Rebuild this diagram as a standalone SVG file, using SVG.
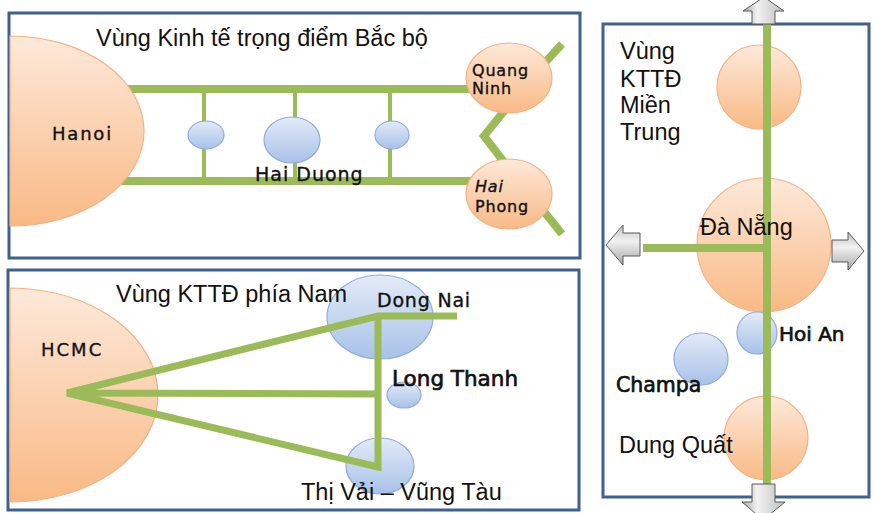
<svg xmlns="http://www.w3.org/2000/svg" width="873" height="513" viewBox="0 0 873 513">
  <defs>
    <linearGradient id="gOrange" x1="0" y1="0" x2="0" y2="1">
      <stop offset="0" stop-color="#fde9da"/>
      <stop offset="1" stop-color="#f9b985"/>
    </linearGradient>
    <linearGradient id="gBlue" x1="0" y1="0" x2="0" y2="1">
      <stop offset="0" stop-color="#e3ebf7"/>
      <stop offset="1" stop-color="#a8c1e8"/>
    </linearGradient>
    <linearGradient id="gArrowV" x1="0" y1="0" x2="1" y2="0">
      <stop offset="0" stop-color="#a6a6a6"/>
      <stop offset="0.35" stop-color="#f2f2f2"/>
      <stop offset="1" stop-color="#bfbfbf"/>
    </linearGradient>
    <linearGradient id="gArrowH" x1="0" y1="0" x2="0" y2="1">
      <stop offset="0" stop-color="#bfbfbf"/>
      <stop offset="0.4" stop-color="#f2f2f2"/>
      <stop offset="1" stop-color="#a6a6a6"/>
    </linearGradient>
  </defs>
  <style>
    .panel { fill: #ffffff; stroke: #3f6190; stroke-width: 3; }
    .orange { fill: url(#gOrange); stroke: #f4b183; stroke-width: 1.2; }
    .blue { fill: url(#gBlue); stroke: #8faadc; stroke-width: 1.2; }
    .road { fill: none; stroke: #9bbb59; stroke-linejoin: miter; }
    .arrowV { fill: url(#gArrowV); stroke: #595959; stroke-width: 1; }
    .arrowH { fill: url(#gArrowH); stroke: #595959; stroke-width: 1; }
    .title { font-family: "Liberation Sans", Arial, sans-serif; font-size: 23.5px; fill: #111111; }
    .city { font-family: "DejaVu Sans", Verdana, sans-serif; fill: #111111; stroke: #111111; stroke-width: 0.35; }
    .cityb { font-family: "DejaVu Sans", Verdana, sans-serif; fill: #111111; stroke: #111111; stroke-width: 0.7; }
  </style>

  <!-- panel frames -->
  <g id="panels">
    <rect class="panel" x="9" y="13" width="571" height="245"/>
    <rect class="panel" x="8" y="270" width="571" height="240"/>
    <rect class="panel" x="603" y="24" width="266" height="473"/>
  </g>

  <!-- road connectors -->
  <g id="connectors">
    <!-- northern ladder -->
    <line class="road" x1="120" y1="89" x2="480" y2="89" stroke-width="8"/>
    <line class="road" x1="115" y1="181" x2="480" y2="181" stroke-width="8"/>
    <line class="road" x1="204" y1="89" x2="204" y2="181" stroke-width="4"/>
    <line class="road" x1="295" y1="89" x2="295" y2="181" stroke-width="4"/>
    <line class="road" x1="390" y1="89" x2="390" y2="181" stroke-width="4"/>
    <polyline class="road" points="505,110 484,136 504,162" stroke-width="8"/>
    <line class="road" x1="540" y1="68" x2="562" y2="44" stroke-width="8"/>
    <line class="road" x1="542" y1="209" x2="562" y2="234" stroke-width="8"/>
  </g>

  <!-- northern region -->
  <g id="title-north">
    <text class="title" x="96" y="46">Vùng Kinh tế trọng điểm Bắc bộ</text>
  </g>
  <g id="hanoi">
    <path class="orange" d="M10,36 A134,95 0 0 1 10,226 Z"/>
    <text class="city" x="52" y="140" font-size="18" letter-spacing="1.8">Hanoi</text>
  </g>
  <g id="node-n1">
    <ellipse class="blue" cx="206" cy="135" rx="18" ry="14"/>
  </g>
  <g id="hai-duong">
    <ellipse class="blue" cx="292" cy="140" rx="28" ry="23"/>
    <text class="city" x="255" y="181" font-size="19" letter-spacing="1">Hai Duong</text>
  </g>
  <g id="node-n3">
    <ellipse class="blue" cx="392" cy="135" rx="17" ry="14"/>
  </g>
  <g id="quang-ninh">
    <ellipse class="orange" cx="509" cy="78" rx="43" ry="35"/>
    <text class="city" font-size="16" letter-spacing="0.8"><tspan x="472" y="76">Quang</tspan><tspan x="472" y="94">Ninh</tspan></text>
  </g>
  <g id="hai-phong">
    <ellipse class="orange" cx="509" cy="194" rx="43" ry="35"/>
    <text class="city" font-size="16" letter-spacing="0.8"><tspan x="475" y="192" font-style="italic">Hai</tspan><tspan x="475" y="212">Phong</tspan></text>
  </g>

  <!-- southern region -->
  <g id="hcmc">
    <path class="orange" d="M10,288 A148,107 0 0 1 10,502 Z"/>
    <text class="city" x="41" y="356" font-size="18" letter-spacing="2">HCMC</text>
  </g>
  <g id="dong-nai">
    <ellipse class="blue" cx="380" cy="317" rx="53" ry="42"/>
  </g>
  <g id="long-thanh">
    <ellipse class="blue" cx="404" cy="395" rx="17" ry="13"/>
  </g>
  <g id="thi-vai">
    <ellipse class="blue" cx="380" cy="466" rx="34" ry="28"/>
  </g>
  <g id="connectors-south">
    <polyline class="road" points="457,316 378,316 67,393 379,394" stroke-width="7"/>
    <polyline class="road" points="67,393 378,467 378,316" stroke-width="7"/>
  </g>
  <g id="labels-south">
    <text class="title" x="116" y="302">Vùng KTTĐ phía Nam</text>
    <text class="city" x="377" y="307" font-size="19" letter-spacing="0.8">Dong Nai</text>
    <text class="cityb" x="392" y="386" font-size="21.5">Long Thanh</text>
    <text class="title" x="301" y="500">Thị Vải – Vũng Tàu</text>
  </g>

  <!-- central region -->
  <g id="title-central">
    <text class="title" x="620" y="59">Vùng</text>
    <text class="title" x="620" y="87">KTTĐ</text>
    <text class="title" x="620" y="113">Miền</text>
    <text class="title" x="620" y="140">Trung</text>
  </g>
  <g id="node-c1">
    <ellipse class="orange" cx="759" cy="87" rx="42" ry="42"/>
  </g>
  <g id="da-nang">
    <ellipse class="orange" cx="764" cy="245" rx="67" ry="67"/>
  </g>
  <g id="hoi-an">
    <ellipse class="blue" cx="757" cy="333" rx="20" ry="21"/>
  </g>
  <g id="champa">
    <ellipse class="blue" cx="701" cy="359" rx="27" ry="26"/>
  </g>
  <g id="dung-quat">
    <ellipse class="orange" cx="766" cy="438" rx="42" ry="42"/>
  </g>
  <g id="connectors-central">
    <line class="road" x1="767" y1="24" x2="767" y2="484" stroke-width="8"/>
    <line class="road" x1="643" y1="248" x2="771" y2="248" stroke-width="8"/>
  </g>
  <g id="labels-central">
    <text class="title" x="700" y="235">Đà Nẵng</text>
    <text class="cityb" x="779" y="341" font-size="20">Hoi An</text>
    <text class="cityb" x="616" y="392" font-size="20.5">Champa</text>
    <text class="title" x="619" y="453">Dung Quất</text>
  </g>

  <!-- outbound arrows -->
  <g id="arrows">
    <polygon class="arrowV" points="764,-3 784,11 775,11 775,24 752,24 752,11 743,11"/>
    <polygon class="arrowV" points="752,484 775,484 775,502 785,502 763,520 742,502 752,502"/>
    <polygon class="arrowH" points="606,245 623,225 623,233 640,233 640,256 623,256 623,265"/>
    <polygon class="arrowH" points="832,240 848,240 848,232 864,251 848,270 848,262 832,262"/>
  </g>
</svg>
